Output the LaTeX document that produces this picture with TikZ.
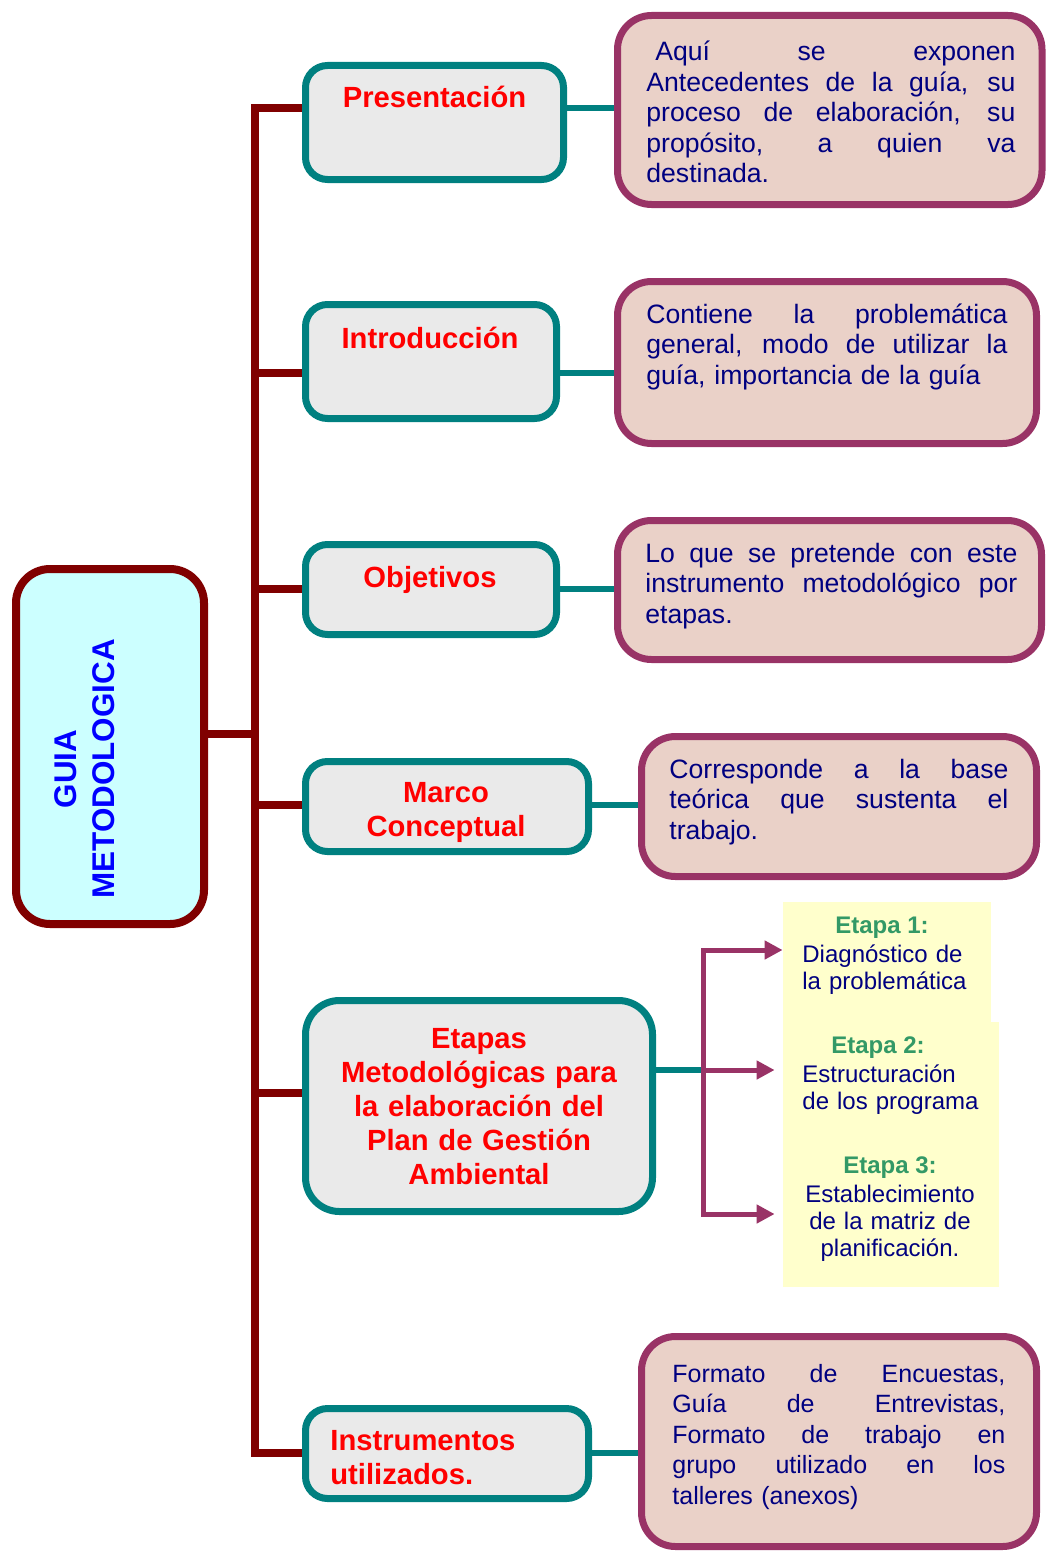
\documentclass[tikz,border=0pt]{standalone}
\usepackage{fontspec}
\setmainfont{Liberation Sans}
\usetikzlibrary{arrows.meta,backgrounds}

\definecolor{guiared}{HTML}{800000}
\definecolor{ramateal}{HTML}{008080}
\definecolor{notaplum}{HTML}{993366}
\definecolor{notafill}{HTML}{EAD1C8}
\definecolor{cajafill}{HTML}{EAEAEA}
\definecolor{guiafill}{HTML}{CCFFFF}
\definecolor{etapafill}{HTML}{FFFFCC}
\definecolor{textnavy}{HTML}{000080}
\definecolor{etapagreen}{HTML}{339966}

\newcommand{\jl}[1]{\makebox[\hsize][s]{\spaceskip=0.278em plus 1fil\relax #1}}

\tikzstyle{guia} = [rectangle, rounded corners=17pt, draw=guiared, line width=4pt, fill=guiafill, inner sep=0pt]
\tikzstyle{tema} = [rectangle, rounded corners=11pt, draw=ramateal, line width=3.5pt, fill=cajafill, inner sep=0pt]
\tikzstyle{nota} = [rectangle, rounded corners=17pt, draw=notaplum, line width=3.5pt, fill=notafill, inner sep=0pt]
\tikzstyle{etapa} = [rectangle, fill=etapafill, inner sep=0pt]
\tikzstyle{titulo} = [text=red, font=\bfseries\fontsize{14.6}{17}\selectfont, inner sep=0pt]
\tikzstyle{texto} = [text=textnavy, font=\fontsize{13.3}{15.25}\selectfont, inner sep=0pt, anchor=base west]
\tikzstyle{etapatit} = [text=etapagreen, font=\bfseries\fontsize{12}{13.5}\selectfont, inner sep=0pt, anchor=base]
\tikzstyle{etapatxt} = [text=textnavy, font=\fontsize{12}{13.5}\selectfont, inner sep=0pt]
\tikzstyle{rama} = [draw=guiared, line width=4pt]
\tikzstyle{enlace} = [draw=ramateal, line width=3.25pt]
\tikzstyle{corchete} = [draw=notaplum, line width=2.5pt, line cap=rect]
\tikzstyle{flecha} = [draw=notaplum, line width=2.5pt, -{Triangle[length=9pt,width=9pt]}]

\begin{document}
\begin{tikzpicture}[x=0.5pt, y=-0.5pt]
	\useasboundingbox (0,0) rectangle (1047,1552);

	% caja principal
	\node (guia) [guia, minimum width=94pt, minimum height=177.5pt] at (110,746.5) {};
	\node (guiatxt) [text=blue, font=\bfseries\fontsize{15.7}{19}\selectfont, align=center, rotate=90, inner sep=0pt] at (85,769) {GUIA\\METODOLOGICA};

	% temas
	\node (pres)   [tema, minimum width=129pt, minimum height=57pt]   at (434.5,122.5) {};
	\node (intro)  [tema, minimum width=125.5pt, minimum height=57pt] at (431,361.5) {};
	\node (obj)    [tema, minimum width=125.5pt, minimum height=45pt] at (431,589.5) {};
	\node (marco)  [tema, minimum width=141.5pt, minimum height=45pt] at (447,806.5) {};
	\node (etapas) [tema, rounded corners=17pt, minimum width=173.5pt, minimum height=105.5pt] at (479,1106) {};
	\node (instr)  [tema, minimum width=141.5pt, minimum height=45pt] at (447,1453.5) {};

	\node (prestxt)   [titulo, anchor=base] at (434.5,108) {Presentación};
	\node (introtxt)  [titulo, anchor=base] at (430,348) {Introducción};
	\node (objtxt)    [titulo, anchor=base] at (430,587) {Objetivos};
	\node (marcotxt)  [titulo, anchor=base, text width=140pt, align=center] at (446,802) {Marco\\Conceptual};
	\node (etapastxt) [titulo, anchor=base, text width=175pt, align=center] at (479,1048) {Etapas\\Metodológicas para\\la elaboración del\\Plan de Gestión\\Ambiental};
	\node (instrtxt)  [titulo, anchor=base west, text width=130pt, align=left] at (330,1450) {Instrumentos\\utilizados.};

	% notas
	\node (presnota)  [nota, minimum width=212.25pt, minimum height=94.5pt] at (829.75,110) {};
	\node (intronota) [nota, minimum width=209.5pt, minimum height=81pt]   at (827,362.5) {};
	\node (objnota)   [nota, minimum width=212pt, minimum height=69.5pt]   at (829.5,590) {};
	\node (marconota) [nota, minimum width=197.5pt, minimum height=70pt]   at (839,806.5) {};
	\node (instrnota) [nota, minimum width=197.5pt, minimum height=105pt]  at (839,1441.5) {};

	\node (presinfo) [texto, text width=184.5pt] at (646,61) {\jl{\hspace*{4.5pt}Aquí se exponen}\\ \jl{Antecedentes de la guía, su}\\ \jl{proceso de elaboración, su}\\ \jl{propósito, a quien va}\\ destinada.};
	\node (introinfo) [texto, text width=180.5pt] at (646,323) {\jl{Contiene la problemática}\\ \jl{general, modo de utilizar la}\\ guía, importancia de la guía};
	\node (objinfo) [texto, text width=186pt] at (645,562) {\jl{Lo que se pretende con este}\\ \jl{instrumento metodológico por}\\ etapas.};
	\node (marcoinfo) [texto, text width=169.5pt] at (669,778) {\jl{Corresponde a la base}\\ \jl{teórica que sustenta el}\\ trabajo.};
	\node (instrinfo) [texto, font=\fontsize{12.5}{15.25}\selectfont, text width=166.5pt] at (672,1382) {\jl{Formato de Encuestas,}\\ \jl{Guía de Entrevistas,}\\ \jl{Formato de trabajo en}\\ \jl{grupo utilizado en los}\\ talleres (anexos)};

	% etapas
	\node (e1) [etapa, minimum width=104pt, minimum height=60pt]   at (887,962) {};
	\node (e2) [etapa, minimum width=108pt, minimum height=64pt]   at (891,1086) {};
	\node (e3) [etapa, minimum width=108pt, minimum height=68.5pt] at (891,1218.5) {};

	\node (e1t) [etapatit] at (882,933) {Etapa 1:};
	\node (e1b) [etapatxt, anchor=base west, text width=100pt, align=left] at (802,962) {Diagnóstico de\\la problemática};
	\node (e2t) [etapatit] at (878,1053) {Etapa 2:};
	\node (e2b) [etapatxt, anchor=base west, text width=100pt, align=left] at (802,1082) {Estructuración\\de los programa};
	\node (e3t) [etapatit] at (890,1173) {Etapa 3:};
	\node (e3b) [etapatxt, anchor=base, text width=100pt, align=center] at (890,1202) {Establecimiento\\de la matriz de\\planificación.};

	% puntos de las ramas
	\coordinate (b1) at (255,108);
	\coordinate (b2) at (255,373);
	\coordinate (b3) at (255,589);
	\coordinate (b4) at (255,805);
	\coordinate (b5) at (255,1093);
	\coordinate (b6) at (255,1453);
	\coordinate (bm) at (255,734);
	\coordinate (fk1) at (703,950);
	\coordinate (fk2) at (703,1070);
	\coordinate (fk3) at (703,1214);

	\begin{pgfonlayer}{background}
		\draw[rama] (b1 -| pres.west) -- (b1) -- (b6) -- (b6 -| instr.west);
		\draw[rama] (b2) -- (b2 -| intro.west);
		\draw[rama] (b3) -- (b3 -| obj.west);
		\draw[rama] (b4) -- (b4 -| marco.west);
		\draw[rama] (b5) -- (b5 -| etapas.west);
		\draw[rama] (guia.east |- bm) -- (bm);

		\draw[enlace] (pres.east |- b1)  -- (b1 -| presnota.west);
		\draw[enlace] (intro.east |- b2) -- (b2 -| intronota.west);
		\draw[enlace] (obj.east |- b3)   -- (b3 -| objnota.west);
		\draw[enlace] (marco.east |- b4) -- (b4 -| marconota.west);
		\draw[enlace] (instr.east |- b6) -- (b6 -| instrnota.west);
		\draw[enlace] (etapas.east |- fk2) -- (fk2);

		\draw[corchete] (fk1) -- (fk3);
		\draw[flecha] (fk1) -- (fk1 -| e1.west);
		\draw[flecha, shorten >=4pt] (fk2) -- (fk2 -| e2.west);
		\draw[flecha, shorten >=4pt] (fk3) -- (fk3 -| e3.west);
	\end{pgfonlayer}
\end{tikzpicture}
\end{document}
